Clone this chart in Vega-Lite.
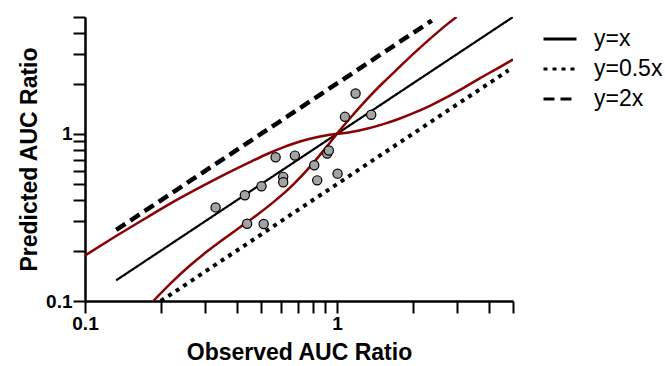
{
  "$schema": "https://vega.github.io/schema/vega-lite/v6.json",
  "autosize": "none",
  "width": 428,
  "height": 284,
  "padding": {"left": 85, "top": 17, "right": 152, "bottom": 65},
  "background": "white",
  "config": {
    "view": {"stroke": null},
    "font": "Liberation Sans",
    "axis": {
      "grid": false,
      "domainColor": "black",
      "domainWidth": 2.5,
      "labelFont": "Liberation Sans",
      "labelFontWeight": "bold",
      "labelFontSize": 19,
      "labelColor": "black",
      "titleFont": "Liberation Sans",
      "titleFontWeight": "bold",
      "titleFontSize": 23,
      "titleColor": "black"
    },
    "legend": {
      "labelFont": "Liberation Sans",
      "labelFontSize": 23,
      "labelColor": "black"
    }
  },
  "datasets": {
    "refs": [
      {"line": "y=x", "x": 0.133, "y": 0.133},
      {"line": "y=x", "x": 5, "y": 5},
      {"line": "y=0.5x", "x": 0.2, "y": 0.1},
      {"line": "y=0.5x", "x": 4.8, "y": 2.4},
      {"line": "y=2x", "x": 0.133, "y": 0.266},
      {"line": "y=2x", "x": 2.38, "y": 4.76}
    ],
    "curves": [
      {"curve": "A", "x": 0.1, "y": 0.187},
      {"curve": "A", "x": 0.129, "y": 0.238},
      {"curve": "A", "x": 0.176, "y": 0.316},
      {"curve": "A", "x": 0.238, "y": 0.412},
      {"curve": "A", "x": 0.323, "y": 0.527},
      {"curve": "A", "x": 0.447, "y": 0.672},
      {"curve": "A", "x": 0.526, "y": 0.755},
      {"curve": "A", "x": 0.612, "y": 0.83},
      {"curve": "A", "x": 0.713, "y": 0.9},
      {"curve": "A", "x": 0.83, "y": 0.955},
      {"curve": "A", "x": 1.0, "y": 1.0},
      {"curve": "A", "x": 1.127, "y": 1.023},
      {"curve": "A", "x": 1.312, "y": 1.072},
      {"curve": "A", "x": 1.528, "y": 1.143},
      {"curve": "A", "x": 1.778, "y": 1.236},
      {"curve": "A", "x": 2.01, "y": 1.33},
      {"curve": "A", "x": 2.34, "y": 1.472},
      {"curve": "A", "x": 2.72, "y": 1.652},
      {"curve": "A", "x": 3.17, "y": 1.879},
      {"curve": "A", "x": 3.69, "y": 2.148},
      {"curve": "A", "x": 4.31, "y": 2.449},
      {"curve": "A", "x": 5.0, "y": 2.786},
      {"curve": "B", "x": 0.1866, "y": 0.1},
      {"curve": "B", "x": 0.224, "y": 0.1321},
      {"curve": "B", "x": 0.261, "y": 0.163},
      {"curve": "B", "x": 0.304, "y": 0.1968},
      {"curve": "B", "x": 0.354, "y": 0.234},
      {"curve": "B", "x": 0.412, "y": 0.276},
      {"curve": "B", "x": 0.48, "y": 0.326},
      {"curve": "B", "x": 0.558, "y": 0.389},
      {"curve": "B", "x": 0.65, "y": 0.475},
      {"curve": "B", "x": 0.759, "y": 0.605},
      {"curve": "B", "x": 0.91, "y": 0.836},
      {"curve": "B", "x": 1.0, "y": 1.0},
      {"curve": "B", "x": 1.127, "y": 1.239},
      {"curve": "B", "x": 1.312, "y": 1.603},
      {"curve": "B", "x": 1.528, "y": 2.028},
      {"curve": "B", "x": 1.778, "y": 2.523},
      {"curve": "B", "x": 2.01, "y": 3.006},
      {"curve": "B", "x": 2.34, "y": 3.698},
      {"curve": "B", "x": 2.72, "y": 4.487},
      {"curve": "B", "x": 2.985, "y": 5.0}
    ],
    "pts": [
      {"x": 0.33, "y": 0.363},
      {"x": 0.431, "y": 0.429},
      {"x": 0.44, "y": 0.29},
      {"x": 0.502, "y": 0.486},
      {"x": 0.512, "y": 0.289},
      {"x": 0.571, "y": 0.724},
      {"x": 0.612, "y": 0.553},
      {"x": 0.612, "y": 0.513},
      {"x": 0.681, "y": 0.741},
      {"x": 0.813, "y": 0.649},
      {"x": 0.835, "y": 0.527},
      {"x": 0.915, "y": 0.762},
      {"x": 0.929, "y": 0.795},
      {"x": 1.006, "y": 0.578},
      {"x": 1.076, "y": 1.264},
      {"x": 1.186, "y": 1.743},
      {"x": 1.368, "y": 1.3}
    ]
  },
  "encoding": {
    "x": {
      "field": "x", "type": "quantitative",
      "scale": {"type": "log", "domain": [0.1, 5], "nice": false},
      "axis": {
        "title": "Observed AUC Ratio",
        "values": [0.1, 0.2, 0.3, 0.4, 0.5, 0.6, 0.7, 0.8, 0.9, 1, 2, 3, 4, 5],
        "labelExpr": "datum.value == 0.1 ? '0.1' : (datum.value == 1 ? '1' : '')",
        "ticks": true,
        "tickSize": 12,
        "tickWidth": 2,
        "tickColor": "black",
        "labelFlush": false,
        "labelOverlap": false,
        "labelPadding": 1,
        "titlePadding": 8
      }
    },
    "y": {
      "field": "y", "type": "quantitative",
      "scale": {"type": "log", "domain": [0.1, 5], "nice": false},
      "axis": {
        "title": "Predicted AUC Ratio",
        "values": [0.1, 0.2, 0.3, 0.4, 0.5, 0.6, 0.7, 0.8, 0.9, 1, 2, 3, 4, 5],
        "labelExpr": "datum.value == 0.1 ? '0.1' : (datum.value == 1 ? '1' : '')",
        "ticks": true,
        "tickSize": 12,
        "tickWidth": 2,
        "tickColor": "black",
        "labelFlush": false,
        "labelOverlap": false,
        "labelPadding": 1,
        "titlePadding": 4
      }
    }
  },
  "layer": [
    {
      "data": {"name": "refs"},
      "transform": [{"filter": "datum.line == 'y=x'"}],
      "mark": {"type": "line", "color": "black", "strokeWidth": 2.2, "strokeCap": "butt", "clip": true},
      "encoding": {
        "strokeDash": {
          "field": "line", "type": "nominal",
          "scale": {"domain": ["y=x", "y=0.5x", "y=2x"], "range": [[1, 0], [4, 5], [11, 6]]},
          "legend": {
            "title": null,
            "orient": "none",
            "legendX": 457,
            "legendY": 4,
            "symbolType": "stroke",
            "symbolSize": 1089,
            "symbolStrokeWidth": 3,
            "symbolStrokeColor": "black",
            "labelOffset": 16,
            "rowPadding": 0
          }
        }
      }
    },
    {
      "data": {"name": "refs"},
      "transform": [{"filter": "datum.line == 'y=0.5x'"}],
      "mark": {"type": "line", "color": "black", "strokeWidth": 4, "strokeCap": "butt", "clip": true},
      "encoding": {
        "strokeDash": {"field": "line", "type": "nominal"}
      }
    },
    {
      "data": {"name": "refs"},
      "transform": [{"filter": "datum.line == 'y=2x'"}],
      "mark": {"type": "line", "color": "black", "strokeWidth": 4.5, "strokeCap": "butt", "clip": true},
      "encoding": {
        "strokeDash": {"field": "line", "type": "nominal"}
      }
    },
    {
      "data": {"name": "curves"},
      "mark": {"type": "line", "color": "#8B0000", "strokeWidth": 2.5, "interpolate": "monotone", "clip": true},
      "encoding": {
        "detail": {"field": "curve", "type": "nominal"}
      }
    },
    {
      "data": {"name": "pts"},
      "mark": {"type": "point", "filled": true, "fill": "#a3a3a3", "stroke": "black", "strokeWidth": 1.2, "opacity": 1, "size": 85}
    }
  ]
}
